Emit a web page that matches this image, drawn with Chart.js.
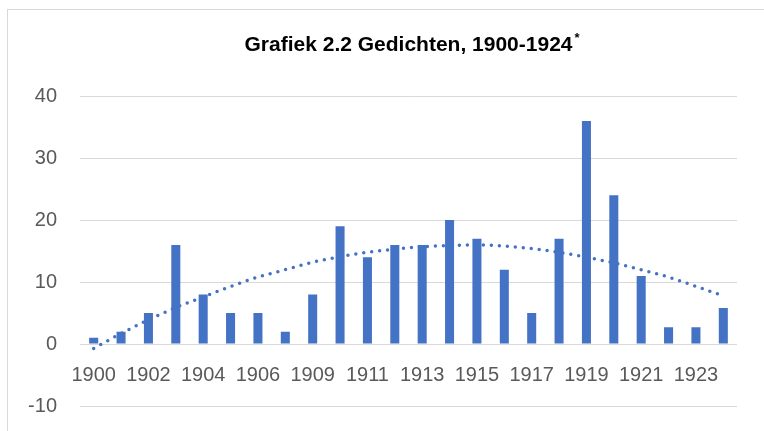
<!DOCTYPE html>
<html lang="nl">
<head>
    <meta charset="UTF-8">
    <title>Grafiek 2.2 Gedichten</title>
    <script src="https://cdn.jsdelivr.net/npm/chart.js"></script>
    <style>
        html, body { margin: 0; padding: 0; background: #fff; overflow: hidden; }
        #frame { position: absolute; left: 7px; top: 9px; width: 900px; height: 600px; border: 1px solid #d9d9d9; }
        /* a bit taller than the window: the plot runs past the bottom edge like the original crop */
        #wrap { position: absolute; left: 0; top: 0; width: 764px; height: 441px; }
    </style>
</head>
<body>
    <div id="frame"></div>
    <div id="wrap"><canvas id="gedichtenChart"></canvas></div>

    <script>
        const years = ['1900', '1901', '1902', '1903', '1904', '1905', '1906', '1907',
                       '1909', '1910', '1911', '1912', '1913', '1914', '1915', '1916',
                       '1917', '1918', '1919', '1920', '1921', '1922', '1923', '1924'];
        const poems = [1, 2, 5, 16, 8, 5, 5, 2,
                       8, 19, 14, 16, 16, 20, 17, 12,
                       5, 17, 36, 24, 11, 2.7, 2.7, 5.8];
        // dotted trendline
        const trend = [-0.7, 1.7, 3.9, 5.9, 7.6, 9.3, 10.8, 12.0,
                       13.2, 14.1, 14.8, 15.3, 15.7, 15.9, 16.0, 15.8,
                       15.4, 14.8, 14.0, 13.1, 12.0, 10.8, 9.3, 7.8];
        const yTicks = [-10, 0, 10, 20, 30, 40];

        const titleText = 'Grafiek 2.2 Gedichten, 1900-1924';
        const titleFont = { family: 'Liberation Sans, Arial, sans-serif', size: 21, weight: 'bold' };

        // small superscript asterisk after the title
        const superStar = {
            id: 'superStar',
            afterDraw(chart) {
                const ctx = chart.ctx;
                const area = chart.chartArea;
                ctx.save();
                ctx.font = 'bold 21px Liberation Sans, Arial, sans-serif';
                const w = ctx.measureText(titleText).width;
                const x = (area.left + area.right) / 2 + w / 2 + 2;
                ctx.font = 'bold 13px Liberation Sans, Arial, sans-serif';
                ctx.fillStyle = '#000';
                ctx.textBaseline = 'top';
                ctx.textAlign = 'left';
                ctx.fillText('*', x, 32);
                ctx.restore();
            }
        };

        const ctx = document.getElementById('gedichtenChart').getContext('2d');
        new Chart(ctx, {
            data: {
                labels: years,
                datasets: [{
                    type: 'line',
                    label: 'Trend',
                    data: trend,
                    borderColor: '#4472C4',
                    borderWidth: 3.5,
                    borderDash: [0, 8],
                    borderCapStyle: 'round',
                    pointRadius: 0,
                    cubicInterpolationMode: 'monotone',
                    fill: false,
                    order: 0
                }, {
                    type: 'bar',
                    label: 'Gedichten',
                    data: poems,
                    backgroundColor: '#4472C4',
                    categoryPercentage: 1,
                    barPercentage: 0.33,
                    order: 1
                }]
            },
            options: {
                responsive: true,
                maintainAspectRatio: false,
                animation: false,
                layout: { padding: { left: 0, right: 27, top: 0, bottom: 15 } },
                plugins: {
                    legend: { display: false },
                    tooltip: { enabled: false },
                    title: {
                        display: true,
                        text: titleText,
                        fullSize: false,
                        color: '#000',
                        font: titleFont,
                        padding: { top: 33, bottom: 38 }
                    }
                },
                scales: {
                    x: {
                        position: { y: 0 },
                        grid: { display: false, drawTicks: false },
                        border: { display: false },
                        ticks: {
                            autoSkip: false,
                            maxRotation: 0,
                            padding: 19,
                            color: '#595959',
                            font: { family: 'Liberation Sans, Arial, sans-serif', size: 20 },
                            callback: function(value, index) {
                                return index % 2 === 0 ? years[index] : '';
                            }
                        }
                    },
                    y: {
                        min: yTicks[0],
                        max: yTicks[yTicks.length - 1],
                        afterFit: function(scale) { scale.width = 80; },
                        afterBuildTicks: function(scale) {
                            scale.ticks = yTicks.map(v => ({ value: v }));
                        },
                        grid: { color: '#d9d9d9', lineWidth: 1, drawTicks: false },
                        border: { display: false },
                        ticks: {
                            padding: 23,
                            color: '#595959',
                            font: { family: 'Liberation Sans, Arial, sans-serif', size: 20 }
                        }
                    }
                }
            },
            plugins: [superStar]
        });
    </script>
</body>
</html>
